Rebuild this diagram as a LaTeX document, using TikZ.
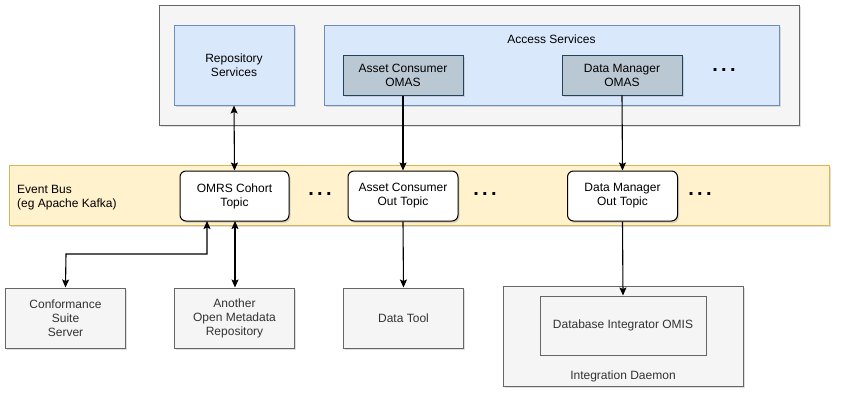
\documentclass[tikz,border=0pt]{standalone}
\usepackage{fontspec}
\setmainfont{Liberation Sans}
\usetikzlibrary{arrows.meta,shadows}
\definecolor{grayfill}{HTML}{F5F5F5}
\definecolor{grayline}{HTML}{666666}
\definecolor{graytext}{HTML}{333333}
\definecolor{bluefill}{HTML}{DAE8FC}
\definecolor{blueline}{HTML}{6C8EBF}
\definecolor{omasfill}{HTML}{BAC8D3}
\definecolor{omasline}{HTML}{23445D}
\definecolor{busfill}{HTML}{FFF2CC}
\definecolor{busline}{HTML}{D6B656}
\tikzset{
  base/.style={rectangle, inner sep=0pt, align=center, font=\fontsize{12}{14}\selectfont, line width=1pt,
    drop shadow={shadow xshift=1.5pt, shadow yshift=-2pt, opacity=0.25}},
  graybox/.style={base, fill=grayfill, draw=grayline, text=graytext},
  bluebox/.style={base, fill=bluefill, draw=blueline},
  omasbox/.style={base, fill=omasfill, draw=omasline},
  busbox/.style={base, fill=busfill, draw=busline},
  topicbox/.style={base, fill=white, draw=black, rounded corners=6pt},
  plainbox/.style={rectangle, inner sep=0pt, align=center, font=\fontsize{12}{14}\selectfont, line width=1pt, fill=grayfill, draw=grayline, text=graytext},
  lbl/.style={inner sep=0pt, align=left, font=\fontsize{12}{14}\selectfont},
  dotsmark/.style={inner sep=0pt, font=\fontsize{20}{20}\selectfont\bfseries},
  conn/.style={line width=1.1pt, -{Stealth[length=8pt,width=7pt,inset=1.5pt]}},
  biconn/.style={line width=1.1pt, {Stealth[length=8pt,width=7pt,inset=1.5pt]}-{Stealth[length=8pt,width=7pt,inset=1.5pt]}},
}
\begin{document}
\begin{tikzpicture}[x=1pt,y=-1pt]
\useasboundingbox (0,0) rectangle (846,402);
% top server
\node[graybox, minimum width=640pt, minimum height=120pt] (server) at (479.5,65) {};
\node[bluebox, minimum width=120pt, minimum height=80pt] (repo) at (234,65) {Repository\\Services};
\node[bluebox, minimum width=455pt, minimum height=80pt] (access) at (551.5,65) {};
\node[lbl] (accesslbl) at (551.5,39) {Access Services};
\node[omasbox, minimum width=120pt, minimum height=40pt] (acomas) at (403,75) {Asset Consumer\\OMAS};
\node[omasbox, minimum width=120pt, minimum height=40pt] (dmomas) at (622,75) {Data Manager\\OMAS};
\node[dotsmark] (dots1) at (724,70) {.\,.\,.};
% event bus
\node[busbox, minimum width=820pt, minimum height=60pt] (bus) at (419,195) {};
\node[lbl, anchor=west] (buslbl) at (17,198) {Event Bus\\(eg Apache Kafka)};
\node[topicbox, minimum width=109pt, minimum height=50pt] (omrs) at (234.5,196) {OMRS Cohort\\Topic};
\node[topicbox, minimum width=110pt, minimum height=50pt] (actopic) at (403,196) {Asset Consumer\\Out Topic};
\node[topicbox, minimum width=110pt, minimum height=50pt] (dmtopic) at (622.5,196) {Data Manager\\Out Topic};
\node[dotsmark] (dots2) at (320,194) {.\,.\,.};
\node[dotsmark] (dots3) at (485,194) {.\,.\,.};
\node[dotsmark] (dots4) at (700,194) {.\,.\,.};
% bottom
\node[graybox, minimum width=120pt, minimum height=60pt] (conf) at (65.5,318) {Conformance\\Suite\\Server};
\node[graybox, minimum width=120pt, minimum height=60pt] (another) at (234.5,318) {Another\\Open Metadata\\Repository};
\node[graybox, minimum width=120pt, minimum height=60pt] (datatool) at (403.5,318) {Data Tool};
\node[graybox, minimum width=240pt, minimum height=100pt] (daemon) at (623,336) {};
\node[lbl, text=graytext] (daemonlbl) at (623,376) {Integration Daemon};
\node[plainbox, minimum width=166pt, minimum height=59pt] (omis) at (623,325.5) {Database Integrator OMIS};
% connectors
\coordinate (omrsA) at (207,221);
\coordinate (omrsB) at (235,221);
\draw[biconn] (repo.south) -- (omrs.north);
\draw[conn] (acomas.south) -- (actopic.north);
\draw[conn] (dmomas.south) -- (dmtopic.north);
\draw[biconn] (omrsA) |- (66,254) -- (conf.north);
\draw[biconn] (omrsB) -- (omrsB |- another.north);
\draw[conn] (actopic.south) -- (datatool.north);
\draw[conn] (dmtopic.south) -- (omis.north);
\end{tikzpicture}
\end{document}
